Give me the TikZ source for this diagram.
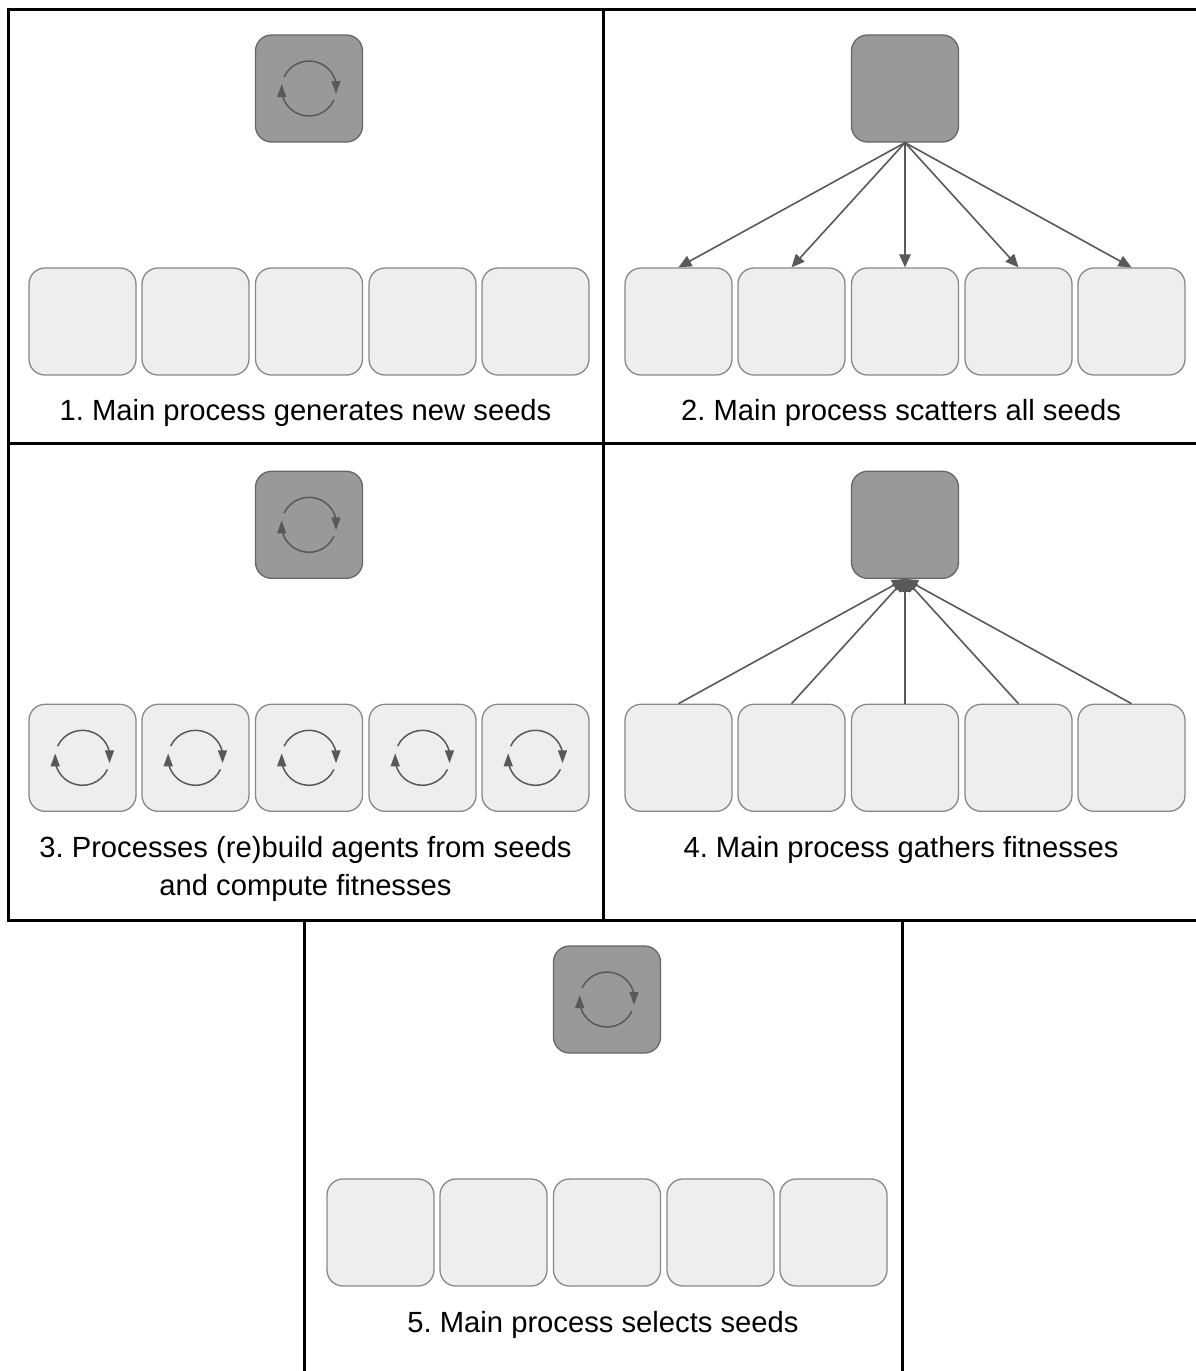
\documentclass[tikz,border=0pt]{standalone}
\usepackage{fontspec}
\setmainfont{Liberation Sans}
\usetikzlibrary{arrows.meta}
\tikzset{
  x=1pt,y=-1pt,
  mainbox/.style={draw=mainedge,fill=mainfill,rounded corners=16pt,line width=1.3pt,minimum width=107pt,minimum height=107pt,inner sep=0pt},
  workerbox/.style={draw=workeredge,fill=workerfill,rounded corners=16pt,line width=1.3pt,minimum width=107pt,minimum height=107pt,inner sep=0pt},
  flow/.style={draw=arrowcol,line width=1.6pt,-{Triangle[length=13pt,width=11.5pt,fill=arrowcol]}},
  cyc/.style={draw=arrowcol,line width=1.5pt},
  cyctip/.style={fill=arrowcol},
  frameline/.style={draw=black,line width=3pt},
  caption/.style={font=\fontsize{29.2}{38.5}\selectfont\frenchspacing,text=black,align=center,inner sep=0pt}
}
\definecolor{mainedge}{HTML}{666666}
\definecolor{mainfill}{HTML}{999999}
\definecolor{workeredge}{HTML}{888888}
\definecolor{workerfill}{HTML}{EEEEEE}
\definecolor{arrowcol}{HTML}{595959}
% prefix, dx, dy
\newcommand{\stage}[3]{%
  \node[mainbox] (#1m) at (#2+309,#3+88.5) {};
  \node[workerbox] (#1a) at (#2+82.5,#3+321.5) {};
  \node[workerbox] (#1b) at (#2+195.5,#3+321.5) {};
  \node[workerbox] (#1c) at (#2+309,#3+321.5) {};
  \node[workerbox] (#1d) at (#2+422.5,#3+321.5) {};
  \node[workerbox] (#1e) at (#2+535.5,#3+321.5) {};
}
% the y axis points down, so these angles run the other way round
\newcommand{\cycle}[1]{%
  \draw[cyc] (#1) ++(-155:27.5) arc[start angle=-155,end angle=-12,radius=27.5];
  \fill[cyctip] (#1) ++(22.3,-7.5) -- ++(9.4,0) -- ++(-4.7,12.8) -- cycle;
  \draw[cyc] (#1) ++(25:27.5) arc[start angle=25,end angle=165,radius=27.5];
  \fill[cyctip] (#1) ++(-32,8.5) -- ++(9.4,0) -- ++(-4.7,-12.8) -- cycle;
}
\begin{document}
\begin{tikzpicture}
\useasboundingbox (0,0) rectangle (1196,1371);
\fill[white] (0,0) rectangle (1196,1371);
% frames
\draw[frameline] (1196,9.5) -- (8,9.5) -- (8,920.5) -- (1196,920.5);
\draw[frameline] (8,443.5) -- (1196,443.5);
\draw[frameline] (603.5,9.5) -- (603.5,920.5);
\draw[frameline] (304.5,920.5) -- (304.5,1371);
\draw[frameline] (902.5,920.5) -- (902.5,1371);
% stages
\stage{p}{0}{0}
\stage{q}{596}{0}
\stage{r}{0}{436.3}
\stage{s}{596}{436.3}
\stage{t}{298}{911}
% cycles
\cycle{pm}
\cycle{rm}
\cycle{tm}
\cycle{ra}
\cycle{rb}
\cycle{rc}
\cycle{rd}
\cycle{re}
% scatter
\foreach \w in {a,b,c,d,e} \draw[flow] (qm.south) -- (q\w.north);
% gather
\foreach \w in {a,b,c,d,e} \draw[flow] (s\w.north) -- (sm.south);
% captions
\node[caption] (c1) at (305.5,412.5) {1. Main process generates new seeds};
\node[caption] (c2) at (901,412.5) {2. Main process scatters all seeds};
\node[caption] (c3) at (305.5,868.8) {3. Processes (re)build agents from seeds\\and compute fitnesses};
\node[caption] (c4) at (901,849.5) {4. Main process gathers fitnesses};
\node[caption] (c5) at (603,1324.5) {5. Main process selects seeds};
\end{tikzpicture}
\end{document}
